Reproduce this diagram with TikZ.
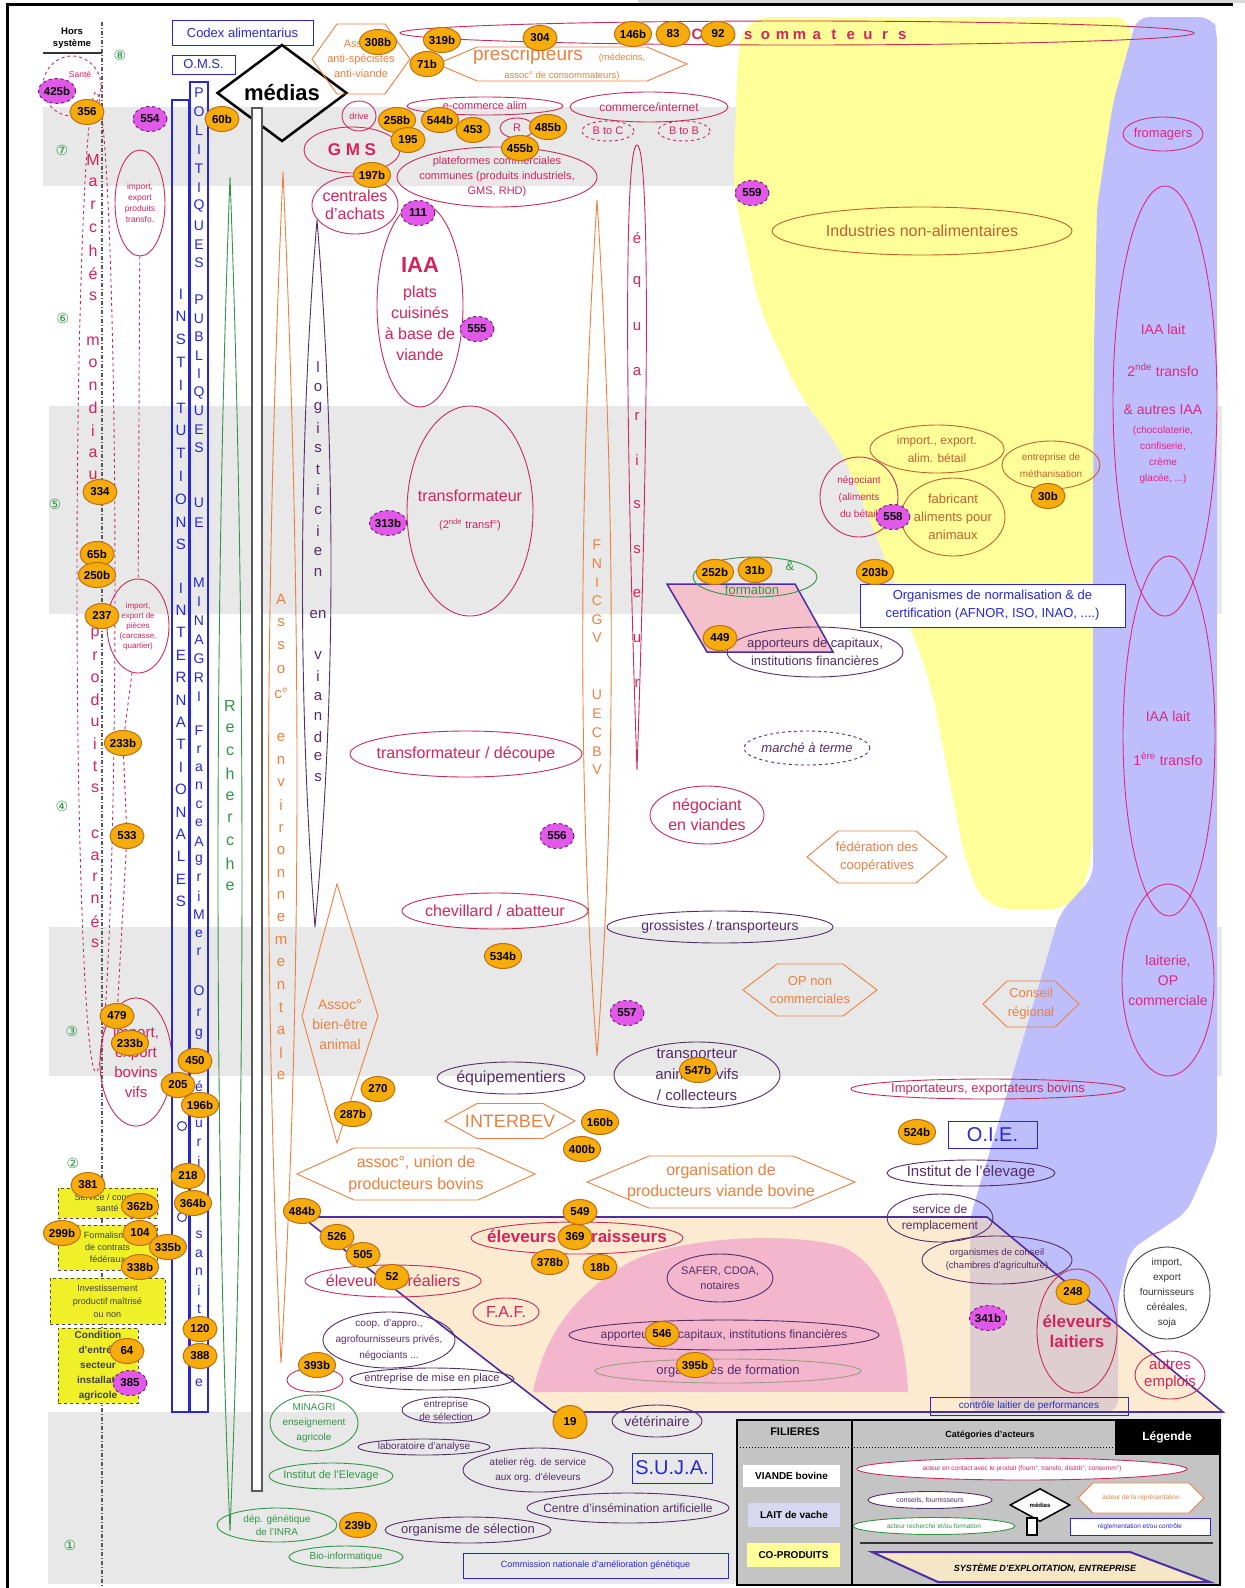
\documentclass[tikz,border=0pt]{standalone}
\usepackage{fontspec}
\setmainfont{Liberation Sans}
\newfontfamily\symfont{DejaVu Sans}
\usetikzlibrary{shapes.geometric}

\definecolor{rosered}{RGB}{212,36,92}
\definecolor{redline}{RGB}{200,45,90}
\definecolor{purp}{RGB}{85,45,105}
\definecolor{grn}{RGB}{50,150,70}
\definecolor{orng}{RGB}{236,128,62}
\definecolor{brn}{RGB}{196,96,48}
\definecolor{mag}{RGB}{220,40,130}
\definecolor{blu}{RGB}{40,40,210}
\definecolor{bubfill}{RGB}{246,172,10}
\definecolor{bubline}{RGB}{190,110,20}
\definecolor{magfill}{RGB}{226,88,232}
\definecolor{magline}{RGB}{110,30,120}
\definecolor{band}{RGB}{232,232,232}
\definecolor{yel}{RGB}{255,255,153}
\definecolor{lav}{RGB}{190,190,252}
\definecolor{lavl}{RGB}{215,215,240}
\definecolor{beige}{RGB}{251,220,173}
\definecolor{beigel}{RGB}{245,230,200}
\definecolor{pinkc}{RGB}{244,182,204}
\definecolor{sysline}{RGB}{75,45,165}
\definecolor{stemc}{RGB}{90,90,90}
\definecolor{legbg}{RGB}{196,196,196}
\definecolor{ybx}{RGB}{240,240,40}
\definecolor{sage}{RGB}{150,160,130}

\newcommand\fsz[2]{\fontsize{#1}{#2}\selectfont}
% ellipse actor: style, name, x, y, rx, ry, label
\newcommand\actor[7]{%
  \node[act,#1,minimum width=2*#5,minimum height=2*#6] (#2) at (#3,#4) {};
  \node[#1,draw=none,fill=none,align=center,inner sep=0pt] (#2t) at (#3,#4) {#7};}
% hexagon actor: style, name, x, y, half width, half height, point depth, label
\newcommand\hexa[8]{%
  \draw[#1,line width=0.9pt] (#3-#5,#4) -- (#3-#5+#7,#4-#6) -- (#3+#5-#7,#4-#6) -- (#3+#5,#4) -- (#3+#5-#7,#4+#6) -- (#3-#5+#7,#4+#6) -- cycle;
  \node[#1,draw=none,fill=none,align=center,inner sep=0pt] (#2) at (#3,#4) {#8};}
% letters stacked vertically: style, name prefix, x, first y, step, letters
\newcommand\vspread[6]{%
  \foreach \ch [count=\k] in {#6} \node[vl,#1] (#2\k) at (#3,{#4+(\k-1)*#5}) {\ch};}

\pgfdeclarelayer{bg}
\pgfdeclarelayer{conn}
\pgfsetlayers{bg,conn,main}

\begin{document}
\begin{tikzpicture}[x=1pt,y=-1pt,
  act/.style={ellipse,inner sep=0pt,line width=0.9pt},
  cR/.style={draw=redline,text=rosered},
  cP/.style={draw=purp,text=purp},
  cG/.style={draw=grn,text=grn},
  cO/.style={draw=orng,text=orng},
  cB/.style={draw=brn,text=brn},
  cM/.style={draw=mag,text=mag},
  cK/.style={draw=black!75,text=black!80},
  bub/.style={ellipse,fill=bubfill,draw=bubline,line width=1pt,inner sep=0pt,
    minimum width=34pt,minimum height=25pt,font=\bfseries\fsz{11.5}{11.5},text=black},
  mgb/.style={bub,fill=magfill,draw=magline,dashed},
  blbox/.style={draw=blu,text=blu,line width=1pt,inner sep=0pt},
  vl/.style={inner sep=0pt,font=\fsz{15}{15}},
  ybox/.style={draw=black!70,dashed,fill=ybx,line width=1pt,inner sep=0pt,align=center,text=black!75},
  dig/.style={text=grn,font=\symfont\fsz{14}{14},inner sep=0pt},
]
\useasboundingbox (0,0) rectangle (1245,1588);

\begin{pgfonlayer}{bg}
\fill[white] (0,0) rectangle (1245,1588);
\fill[black!15] (638,0) rectangle (1245,3);
% level bands
\fill[band] (43,107) rectangle (1217,186);
\fill[band] (49,406) rectangle (1222,614);
\fill[band] (49,927) rectangle (1222,1076);
\fill[band] (48,1412) rectangle (1222,1584);
% co-products area
\fill[yel,rounded corners=25pt] (745,17) -- (1137,17) -- (1113,103) -- (1097,207) -- (1094,350)
  -- (1093,860) -- (1075,909) -- (985,909) -- (965,860) -- (930,681) -- (880,545) -- (840,448)
  -- (800,396) -- (760,310) -- (733,189) -- (738,52) -- cycle;
% dairy chain area
\fill[lav,rounded corners=12pt] (1137,17) -- (1212,17) -- (1217,30) -- (1217,1144) -- (1187,1212)
  -- (1130,1250) -- (1118,1300) -- (1118,1412) -- (970,1412) -- (970,1218) -- (1017,1060)
  -- (1060,913) -- (1093,877) -- (1093,520) -- (1094,344) -- (1097,207) -- (1113,103) -- cycle;
% farm system
\fill[beige,fill opacity=.55] (302,1217) -- (987,1217) -- (1223,1412) -- (553,1412) -- cycle;
\fill[pinkc] (533,1392) .. controls (545,1330) and (580,1290) .. (630,1262)
  .. controls (680,1236) and (790,1232) .. (840,1246)
  .. controls (885,1262) and (905,1330) .. (908,1392) -- cycle;
\end{pgfonlayer}

\begin{pgfonlayer}{conn}
\draw[sysline,line width=1.6pt] (302,1217) -- (987,1217) -- (1223,1412) -- (553,1412) -- cycle;
\draw[sysline,line width=1.5pt,fill=pinkc!80!beigel] (667,584) -- (795,584) -- (833,652) -- (707,652) -- cycle;
\end{pgfonlayer}

% system boundary
\draw[black!65,line width=1.3pt,dash pattern=on 4pt off 2pt on 1pt off 2pt] (102,22) -- (102,1588);
\node[font=\bfseries\fsz{9.5}{12},align=center,inner sep=0pt] (hors) at (72,38) {Hors\\système};
\draw[black!80,line width=1.5pt] (43,53) -- (102,53);

% spindles
\draw[grn,line width=0.9pt] (230,177) .. controls (214,600) and (214,1150) .. (230,1531)
  .. controls (246,1150) and (246,600) .. (230,177);
\draw[orng,line width=0.9pt] (283,172) .. controls (264,600) and (264,1000) .. (281,1363)
  .. controls (302,1000) and (302,600) .. (283,172);
\draw[purp,line width=0.9pt] (317,220) .. controls (298,450) and (298,700) .. (315,927)
  .. controls (336,700) and (336,450) .. (317,220);
\draw[orng,line width=0.9pt] (597,200) .. controls (578,500) and (578,800) .. (597,1056)
  .. controls (616,800) and (616,500) .. (597,200);
\draw[redline,line width=0.9pt] (637,770) .. controls (625,420) and (624,145) .. (637,145)
  .. controls (650,145) and (649,420) .. (637,770);
\draw[orng,line width=0.9pt] (337,884) -- (378,1016) -- (337,1143) -- (302,1016) -- cycle;
\node[text=orng,font=\fsz{14}{20},align=center,inner sep=0pt] (bienetre) at (340,1025) {Assoc°\\bien-être\\animal};

% world markets
\actor{cR,dashed,font=\fsz{8}{9}}{sante}{72}{86}{29}{30}{}
\node[text=rosered,font=\fsz{8.5}{9},inner sep=0pt] (santeA) at (80,74) {Santé};
\node[act,draw=redline,dashed,minimum width=38,minimum height=980] (marches) at (96,582) {};
\actor{cR,font=\fsz{8.5}{11}}{impx}{140}{203}{25}{53}{import,\\export\\produits\\transfo.}
\actor{cR,font=\fsz{8}{10}}{pieces}{138}{626}{31}{47}{import,\\export de\\pièces\\(carcasse,\\quartier)}
\actor{cR,font=\fsz{15}{20}}{bovins}{136}{1062}{36}{64}{import,\\export\\bovins\\vifs}

% institutional columns
\draw[blu,line width=1.1pt] (172,100) rectangle (189,1412);
\draw[blu,line width=1.1pt] (190,82) rectangle (208,1412);
\node[blbox,font=\fsz{13}{13},minimum width=141,minimum height=25] (codex) at (242.5,32.5) {Codex alimentarius};
\node[blbox,font=\fsz{13}{13},minimum width=63,minimum height=19] (oms) at (203.5,64.5) {O.M.S.};
\node[circle,draw=blu,line width=1pt,inner sep=0pt,minimum size=9] (oc1) at (182,1126) {};
\node[circle,draw=blu,line width=1pt,inner sep=0pt,minimum size=9] (oc2) at (182,1217) {};

% media
\node[diamond,draw=black,line width=2.5pt,minimum width=130,minimum height=97,inner sep=0pt,
  font=\bfseries\fsz{22}{22}] (medias) at (282,93) {médias};
\draw[stemc,line width=2.4pt,fill=white] (252,108) rectangle (262,1491);

% actors, top
\hexa{cO,font=\fsz{11}{15}}{antisp}{361}{59}{49}{35}{25}{Assoc°\\anti-spécistes\\anti-viande}
\hexa{cO}{prescr}{562}{64}{125}{17}{40}{}
\node[text=orng,font=\fsz{19}{19},inner sep=0pt] (prescA) at (528,56) {prescripteurs};
\node[text=orng,font=\fsz{9.5}{10},inner sep=0pt] (prescB) at (622,58) {(médecins,};
\node[text=orng,font=\fsz{9.5}{10},inner sep=0pt] (prescC) at (562,76) {assoc° de consommateurs)};
\actor{cR}{consom}{797}{33}{397}{12}{}
\foreach \ch [count=\k] in {C,o,n,s,o,m,m,a,t,e,u,r,s}
  \node[text=rosered,font=\bfseries\fsz{15}{15},inner sep=0pt,anchor=base] (cons\k) at ({697+(\k-1)*17.1},39) {\ch};
\actor{cR,font=\fsz{9}{10}}{drive}{359}{116}{17}{15}{drive}
\actor{cR,font=\bfseries\fsz{17}{17}}{gms}{352}{150}{48}{23}{G M S}
\actor{cR,font=\fsz{16}{18}}{centr}{355}{205}{43}{29}{centrales\\d'achats}
\actor{cR,font=\fsz{11}{12}}{ecom}{485}{106}{78}{9}{e-commerce alim}
\actor{cR,font=\fsz{11}{12}}{rhd}{517}{128}{17}{10}{R}
\actor{cR,font=\fsz{12}{13}}{cinet}{649}{107}{79}{15}{commerce/internet}
\actor{cR,dashed,font=\fsz{11}{12}}{btoc}{608}{131}{26}{10}{B to C}
\actor{cR,dashed,font=\fsz{11}{12}}{btob}{684}{131}{26}{10}{B to B}
\actor{cR,font=\fsz{11}{15}}{plat}{497}{177}{100}{30}{plateformes commerciales\\communes (produits industriels,\\GMS, RHD)}
\actor{cR}{iaa}{420}{305}{43}{102}{}
\node[text=rosered,font=\bfseries\fsz{22}{22},inner sep=0pt] (iaaA) at (420,265) {IAA};
\node[text=rosered,font=\fsz{16}{21},align=center,inner sep=0pt] (iaaB) at (420,323) {plats\\cuisinés\\à base de\\viande};
\actor{cR}{transf2}{470}{511}{63}{105}{}
\node[text=rosered,font=\fsz{16}{16},inner sep=0pt] (transf2A) at (470,496) {transformateur};
\node[text=rosered,font=\fsz{11}{11},inner sep=0pt] (transf2B) at (470,525) {(2\textsuperscript{nde} transf°)};
\actor{cR,font=\fsz{16}{18}}{transdec}{466}{754}{116}{23}{transformateur / découpe}
\actor{cR,font=\fsz{16}{18}}{chev}{495}{911}{93}{18}{chevillard / abatteur}
\actor{cR,font=\fsz{16}{20}}{negv}{707}{815}{57}{29}{négociant\\en viandes}
\actor{cP,font=\fsz{14}{16}}{gross}{720}{927}{113}{16}{grossistes / transporteurs}
\actor{cP,dashed,font=\itshape\fsz{13}{14}}{marche}{807}{748}{63}{17}{marché à terme}
\actor{cP,font=\fsz{13}{18}}{apport1}{815}{652}{88}{25}{apporteurs de capitaux,\\institutions financières}
\actor{cG}{form}{755}{577}{62}{20}{}
\node[text=grn,font=\fsz{13}{13},inner sep=0pt] (formA) at (752,590) {formation};
\node[text=grn,font=\fsz{13}{13},inner sep=0pt] (formB) at (790,566) {\&};

% co-products
\actor{cB,font=\fsz{16}{18}}{indus}{922}{231}{150}{24}{Industries non-alimentaires}
\actor{cB,font=\fsz{12}{18}}{impbet}{937}{449}{67}{24}{import., export.\\alim. bétail}
\actor{cR,font=\fsz{10}{17}}{negal}{859}{497}{39}{40}{négociant\\(aliments\\du bétail}
\actor{cB,font=\fsz{13}{18}}{fabric}{953}{517}{52}{39}{fabricant\\aliments pour\\animaux}
\actor{cB,font=\fsz{10}{17}}{metha}{1051}{465}{49}{24}{entreprise de\\méthanisation}
\node[blbox,fill=white,font=\fsz{13}{18},align=center,minimum width=265,minimum height=43] (norm) at (992.5,605.5)
  {Organismes de normalisation \& de\\certification (AFNOR, ISO, INAO, ....)};

% dairy
\actor{cM,font=\fsz{13}{14}}{fromag}{1163}{134}{40}{17}{fromagers}
\actor{cM}{iaal2}{1165}{401}{52}{215}{}
\node[text=mag,font=\fsz{14}{14},inner sep=0pt] (iaal2A) at (1163,329) {IAA lait};
\node[text=mag,font=\fsz{14}{14},inner sep=0pt] (iaal2B) at (1163,370) {2\textsuperscript{nde} transfo};
\node[text=mag,font=\fsz{14}{14},inner sep=0pt] (iaal2C) at (1163,410) {\& autres IAA};
\node[text=mag,font=\fsz{10}{16},align=center,inner sep=0pt] (iaal2D) at (1163,455) {(chocolaterie,\\confiserie,\\crème\\glacée, ...)};
\actor{cM}{iaal1}{1169}{736}{46}{180}{}
\node[text=mag,font=\fsz{14}{14},inner sep=0pt] (iaal1A) at (1168,716) {IAA lait};
\node[text=mag,font=\fsz{14}{14},inner sep=0pt] (iaal1B) at (1168,759) {1\textsuperscript{ère} transfo};
\actor{cM,font=\fsz{14}{20}}{lait}{1168}{980}{46}{96}{laiterie,\\OP\\commerciale}

% middle hexagons and actors
\hexa{cO,font=\fsz{13}{18}}{opnc}{810}{990}{67}{26}{34}{OP non\\commerciales}
\hexa{cO,font=\fsz{13}{18}}{fede}{877}{857}{70}{26}{31}{fédération des\\coopératives}
\hexa{cO,font=\fsz{13}{19}}{consreg}{1031}{1004}{48}{23}{24}{Conseil\\régional}
\hexa{cO,font=\fsz{18}{18}}{interbev}{510}{1121}{65}{17.5}{32}{INTERBEV}
\hexa{cO,font=\fsz{16}{22}}{union}{416}{1174}{119}{26}{57}{assoc°, union de\\producteurs bovins}
\hexa{cO,font=\fsz{16}{21}}{opvb}{721}{1182}{134}{26}{62}{organisation de\\producteurs viande bovine}
\actor{cP,font=\fsz{16}{18}}{equip}{511}{1078}{74}{16}{équipementiers}
\actor{cP,font=\fsz{15}{21}}{transp}{697}{1075}{83}{33}{transporteur\\animaux vifs\\/ collecteurs}
\actor{cR,font=\fsz{13}{14}}{imports}{988}{1089}{137}{10}{Importateurs, exportateurs bovins}
\node[blbox,font=\fsz{20}{20},minimum width=89,minimum height=27] (oie) at (992.5,1134.5) {O.I.E.};
\actor{cP,font=\fsz{15}{16}}{ielev}{971}{1173}{84}{13}{Institut de l'élevage}

% farms
\actor{cP,font=\fsz{12}{16}}{servrem}{940}{1218}{53}{24}{service de\\remplacement}
\actor{cP,font=\fsz{9.5}{13}}{orgcons}{997}{1260}{75}{24}{organismes de conseil\\(chambres d'agriculture)}
\actor{cR,font=\bfseries\fsz{17}{20}}{elevl}{1077}{1331}{40}{62}{éleveurs\\laitiers}
\actor{cK,font=\fsz{10}{15}}{impsoja}{1167}{1293}{43}{46}{import,\\export\\fournisseurs\\céréales,\\soja}
\actor{cR,font=\fsz{15}{17}}{autres}{1170}{1375}{35}{24}{autres\\emplois}
\node[blbox,font=\fsz{10}{10},minimum width=198,minimum height=18] (ctrl) at (1029,1406) {contrôle laitier de performances};
\actor{cR,font=\fsz{16}{18}}{elcer}{393}{1281}{88}{16}{éleveurs céréaliers}
\actor{cR,font=\bfseries\fsz{17}{18}}{eleng}{577}{1238}{106}{16}{éleveurs engraisseurs}
\actor{cR,font=\fsz{16}{18}}{faf}{506}{1312}{33}{14}{F.A.F.}
\actor{cP,font=\fsz{11}{15}}{safer}{720}{1278}{53}{24}{SAFER, CDOA,\\notaires}
\actor{cP,font=\fsz{12}{13}}{apport2}{724}{1335}{155}{15}{apporteurs de capitaux, institutions financières}
\actor{draw=sage,text=purp,font=\fsz{13}{14}}{orgform}{728}{1371}{133}{12}{organismes de formation}
\actor{cP,font=\fsz{10}{16}}{coop}{389}{1340}{66}{28}{coop. d'appro.,\\agrofournisseurs privés,\\négociants ...}
\actor{cP,font=\fsz{11}{12}}{misepl}{432}{1379}{82}{11}{entreprise de mise en place}
\actor{cR}{r393}{315}{1380}{28}{12}{}

% genetics and research
\actor{cP,font=\fsz{10}{13}}{entsel}{446}{1410}{44}{13}{entreprise\\de sélection}
\actor{cP,font=\fsz{10}{11}}{labo}{424}{1447}{66}{8}{laboratoire d'analyse}
\actor{cP,font=\fsz{10}{15}}{atel}{538}{1470}{75}{22}{atelier rég. de service\\aux org. d'éleveurs}
\actor{cP,font=\fsz{12}{13}}{insem}{628}{1508}{101}{15}{Centre d'insémination artificielle}
\actor{cP,font=\fsz{13}{14}}{orgsel}{468}{1530}{83}{13}{organisme de sélection}
\actor{cP,font=\fsz{14}{15}}{veto}{657}{1421}{45}{16}{vétérinaire}
\actor{cG,font=\fsz{10}{15}}{minagri}{314}{1423}{44}{28}{MINAGRI\\enseignement\\agricole}
\actor{cG,font=\fsz{11}{12}}{ielevg}{331}{1476}{62}{13}{Institut de l'Elevage}
\actor{cG,font=\fsz{10}{13}}{inra}{277}{1525}{60}{17}{dép. génétique\\de l'INRA}
\actor{cG,font=\fsz{10}{11}}{bioinf}{346}{1557}{57}{11}{Bio-informatique}
\node[blbox,font=\fsz{20}{20},minimum width=80,minimum height=30] (suja) at (672,1468) {S.U.J.A.};
\node[blbox,font=\fsz{9}{9},minimum width=265,minimum height=25] (cnag) at (595.5,1565.5) {Commission nationale d'amélioration génétique};

% farm conditions
\node[ybox,font=\fsz{9}{11},minimum width=99,minimum height=30] (yb1) at (107.5,1203) {Service / conseil\\santé};
\node[ybox,font=\fsz{9}{12},minimum width=99,minimum height=45] (yb2) at (107.5,1247.5) {Formalisme\\de contrats\\fédéraux};
\node[ybox,font=\fsz{9}{13},minimum width=115,minimum height=46] (yb3) at (107.5,1301) {Investissement\\productif maîtrisé\\ou non};
\node[ybox,font=\bfseries\fsz{10}{15},minimum width=80,minimum height=75] (yb4) at (98,1365.5) {Condition\\d'entrée\\secteur\\installat°\\agricole};

% vertical labels
\vspread{text=rosered,font=\fsz{16}{16}}{mmA}{93}{160}{22.7}{M,a,r,c,h,é,s}
\vspread{text=rosered,font=\fsz{16}{16}}{mmB}{93}{341}{22.4}{m,o,n,d,i,a,u,x}
\vspread{text=rosered,font=\fsz{16}{16}}{mmC}{95}{634}{22}{p,r,o,d,u,i,t,s}
\vspread{text=rosered,font=\fsz{16}{16}}{mmD}{95}{834}{21.8}{c,a,r,n,é,s}
\vspread{text=blu}{inA}{181}{294}{22.8}{I,N,S,T,I,T,U,T,I,O,N,S}
\vspread{text=blu}{inB}{181}{588}{22.4}{I,N,T,E,R,N,A,T,I,O,N,A,L,E,S}
\vspread{text=blu,font=\fsz{14}{14}}{poA}{199}{93}{18.9}{P,O,L,I,T,I,Q,U,E,S}
\vspread{text=blu,font=\fsz{14}{14}}{poB}{199}{300}{18.5}{P,U,B,L,I,Q,U,E,S}
\vspread{text=blu,font=\fsz{14}{14}}{poC}{199}{503}{20}{U,E}
\vspread{text=blu,font=\fsz{14}{14}}{poD}{199}{583}{19}{M,I,N,A,G,R,I}
\vspread{text=blu,font=\fsz{14}{14}}{poE}{199}{731}{18.4}{F,r,a,n,c,e,A,g,r,i,M,e,r}
\vspread{text=blu,font=\fsz{14}{14}}{poF}{199}{991}{21.5}{O,r,g}
\vspread{text=blu,font=\fsz{14}{14}}{poG}{199}{1068}{18.7}{s,é,c,u,r,i,t,é}
\vspread{text=blu,font=\fsz{14}{14}}{poH}{199}{1235}{18.5}{s,a,n,i,t,a,i,r,e}
\vspread{text=grn,font=\fsz{16}{16}}{rech}{230}{706}{22.5}{R,e,c,h,e,r,c,h,e}
\vspread{text=orng}{aeA}{281}{599}{23.5}{A,s,s,o,c°}
\vspread{text=orng}{aeB}{281}{738}{22.5}{e,n,v,i,r,o,n,n,e,m,e,n,t,a,l,e}
\vspread{text=purp}{lgA}{318}{367}{20.5}{l,o,g,i,s,t,i,c,i,e,n}
\node[vl,text=purp] (lgen) at (318,615) {en};
\vspread{text=purp}{lgB}{318}{656}{20.2}{v,i,a,n,d,e,s}
\vspread{text=orng,font=\fsz{14}{14}}{fnA}{597}{545}{18.6}{F,N,I,C,G,V}
\vspread{text=orng,font=\fsz{14}{14}}{fnB}{597}{695}{18.75}{U,E,C,B,V}
\vspread{text=rosered}{eqA}{637}{238}{44.5}{é,q,u,a,r,i,s,s,e,u,r}

% level numbers
\node[dig] (lv8) at (120,55) {⑧};
\node[dig] (lv7) at (62,150) {⑦};
\node[dig] (lv6) at (63,318) {⑥};
\node[dig] (lv5) at (55,504) {⑤};
\node[dig] (lv4) at (62,806) {④};
\node[dig] (lv3) at (72,1031) {③};
\node[dig] (lv2) at (73,1163) {②};
\node[dig] (lv1) at (70,1545) {①};

% numbered references
\foreach \n/\x/\y in {308b/378/42,319b/442/40,71b/427/64,304/540/38,146b/633/34,83/673/34,92/718/34,
  356/87/112,60b/222/119,258b/397/120,544b/440/120,195/408/140,453/473/130,485b/548/127,455b/520/148,
  197b/372/175,334/100/492,65b/97/554,250b/97/575,237/102/616,233b/123/743,533/127/836,479/117/1016,
  450/195/1061,205/178/1085,196b/200/1105,270/378/1089,287b/353/1114,160b/600/1122,400b/582/1149,
  534b/503/956,252b/715/572,31b/755/570,449/720/638,203b/875/572,30b/1048/496,524b/917/1132,
  381/88/1185,362b/140/1206,299b/62/1233,104/140/1233,335b/168/1247,338b/140/1267,218/188/1176,
  364b/193/1203,120/200/1329,388/200/1356,64/127/1351,484b/302/1211,526/337/1237,505/363/1255,
  52/392/1277,549/580/1212,369/575/1237,378b/550/1262,18b/600/1267,546/662/1334,395b/695/1365,
  248/1073/1292,393b/317/1365,239b/358/1525,547b/698/1070}
  \node[bub] (b\n) at (\x,\y) {\n};
\node[bub] (b233bb) at (130,1043) {233b};
\node[bub,minimum width=34pt,minimum height=33pt] (b19) at (570,1422) {19};
\foreach \n/\x/\y in {425b/57/91,554/150/119,111/418/213,555/477/329,559/752/193,313b/388/523,
  556/557/836,557/627/1013,558/893/517,341b/988/1318,385/130/1383}
  \node[mgb] (m\n) at (\x,\y) {\n};

\begin{pgfonlayer}{conn}
\draw[redline,dashed,line width=0.9pt] (impx) -- (pieces);
\draw[redline,dashed,line width=0.9pt] (pieces) -- (b233b) -- (b533) -- (b479);
\end{pgfonlayer}

% legend
\draw[black,line width=2.5pt,fill=legbg] (737,1420) rectangle (1220,1585);
\fill[black] (1115,1420) rectangle (1220,1455);
\draw[black,line width=2.5pt] (852,1420) -- (852,1585);
\draw[black,dotted,line width=1pt] (737,1447) -- (1115,1447);
\node[text=white,font=\bfseries\fsz{12}{12}] (lgtitle) at (1167,1437) {Légende};
\node[font=\bfseries\fsz{11}{11}] (lgfil) at (795,1432) {FILIERES};
\node[font=\bfseries\fsz{9}{9}] (lgcat) at (990,1435) {Catégories d'acteurs};
\node[fill=white,font=\bfseries\fsz{10}{10},minimum width=97,minimum height=22,inner sep=0pt] (lgvb) at (791.5,1476) {VIANDE bovine};
\node[fill=lavl,font=\bfseries\fsz{10}{10},minimum width=92,minimum height=24,inner sep=0pt] (lglait) at (794,1515) {LAIT de vache};
\node[fill=yel,font=\bfseries\fsz{10}{10},minimum width=93,minimum height=24,inner sep=0pt] (lgcop) at (793.5,1555) {CO-PRODUITS};
\node[act,cR,fill=white,minimum width=330,minimum height=22,font=\fsz{6.5}{7}] (lgact) at (1022,1469)
  {acteur en contact avec le produit (fourn°, transfo, distrib°, consomm°)};
\node[act,cP,fill=white,minimum width=124,minimum height=17,font=\fsz{7}{7}] (lgcons) at (930,1500) {conseils, fournisseurs};
\node[diamond,draw=black,line width=1.5pt,fill=white,minimum width=60,minimum height=33,inner sep=0pt,
  font=\bfseries\fsz{6}{6}] (lgmed) at (1040,1505) {médias};
\draw[black,line width=1.2pt,fill=white] (1027,1518) rectangle (1037,1535);
\hexa{cO,fill=white,font=\fsz{6.5}{7}}{lgrep}{1141}{1498}{63}{15}{15}{acteur de la représentation}
\node[act,cG,fill=white,minimum width=162,minimum height=17,font=\fsz{6.5}{7}] (lgrech) at (934,1526) {acteur recherche et/ou formation};
\node[blbox,fill=white,minimum width=140,minimum height=17,font=\fsz{6.5}{7}] (lgregl) at (1140,1526.5) {réglementation et/ou contrôle};
\draw[black!80,line width=2pt] (860,1543) -- (1213,1543);
\draw[sysline,line width=2pt,fill=beigel] (872,1552) -- (1130,1552) -- (1210,1582) -- (938,1582) -- cycle;
\node[font=\bfseries\itshape\fsz{9}{9}] (lgsys) at (1045,1568) {SYSTÈME D'EXPLOITATION, ENTREPRISE};

% frame
\draw[black,line width=3pt] (7,1588) -- (7,4) -- (1233,4);
\end{tikzpicture}
\end{document}
